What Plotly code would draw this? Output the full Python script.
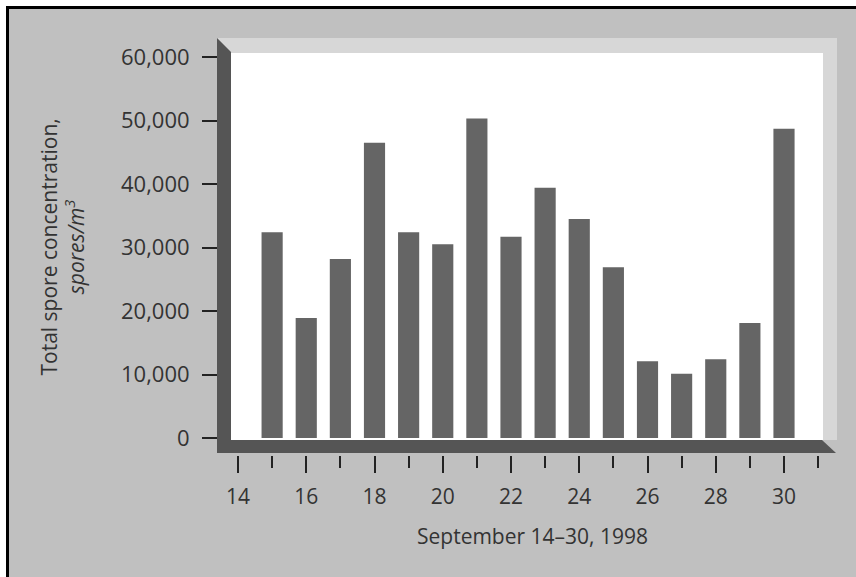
import plotly.graph_objects as go

# ---- data ----
days = [15, 16, 17, 18, 19, 20, 21, 22, 23, 24, 25, 26, 27, 28, 29, 30]
spores = [32400, 18900, 28200, 46500, 32400, 30500, 50300, 31700,
          39400, 34500, 26900, 12100, 10100, 12400, 18100, 48700]
x_major = [14, 16, 18, 20, 22, 24, 26, 28, 30]
x_minor = [15, 17, 19, 21, 23, 25, 27, 29, 31]
y_ticks = [0, 10000, 20000, 30000, 40000, 50000, 60000]

W, H = 856, 577
L, R, T, B = 230, 33, 53, 137
PW, PH = W - L - R, H - T - B

def px(p):
    return (p - L) / PW

def py(p):
    return (H - B - p) / PH

def poly(pts):
    return "M " + " L ".join(f"{px(a):.5f},{py(b):.5f}" for a, b in pts) + " Z"

BG = "#c0c0c0"
DARK = "#555555"
LIGHT = "#d7d7d7"
BAR = "#656565"
TXT = "#333333"
FONT = "Open Sans"

fig = go.Figure()
fig.add_trace(go.Bar(x=days, y=spores, width=0.62, marker=dict(color=BAR, line=dict(width=0))))

shapes = [
    # gray panel
    dict(type="rect", xref="paper", yref="paper", x0=px(6), x1=px(W), y0=py(6), y1=py(H),
         fillcolor=BG, line=dict(width=0), layer="below"),
    # light top and right bands
    dict(type="path", xref="paper", yref="paper", path=poly([(217, 38), (837, 38), (837, 440), (823, 440), (823, 53), (231, 53)]),
         fillcolor=LIGHT, line=dict(width=0), layer="below"),
    # white plotting field
    dict(type="rect", xref="paper", yref="paper", x0=0, x1=1, y0=0, y1=1,
         fillcolor="white", line=dict(width=0), layer="below"),
    # left wall
    dict(type="path", xref="paper", yref="paper", path=poly([(217, 38), (231, 52), (231, 453), (217, 453)]),
         fillcolor=DARK, line=dict(width=0), layer="above"),
    # floor
    dict(type="path", xref="paper", yref="paper", path=poly([(217, 440), (822, 440), (836, 453), (217, 453)]),
         fillcolor=DARK, line=dict(width=0), layer="above"),
    # gap strip under floor
    dict(type="rect", xref="paper", yref="paper", x0=px(217), x1=px(840), y0=py(453), y1=py(456),
         fillcolor=BG, line=dict(width=0), layer="above"),
    # black frame lines
    dict(type="line", xref="paper", yref="paper", x0=px(7.5), x1=px(7.5), y0=py(6), y1=py(H),
         line=dict(color="black", width=3), layer="above"),
    dict(type="line", xref="paper", yref="paper", x0=px(6), x1=px(W), y0=py(7.5), y1=py(7.5),
         line=dict(color="black", width=3), layer="above"),
]

fig.update_layout(
    width=W, height=H,
    margin=dict(l=L, r=R, t=T, b=B, pad=0),
    paper_bgcolor="white",
    plot_bgcolor="white",
    showlegend=False,
    shapes=shapes,
    font=dict(family=FONT, color=TXT),
    xaxis=dict(
        range=[14 + (L - 238) / 34.125, 14 + (W - R - 238) / 34.125],
        tickvals=x_major, ticktext=[str(v) for v in x_major],
        ticks="outside", ticklen=32, tickwidth=2, tickcolor="#222222",
        minor=dict(tickvals=x_minor, ticks="outside", ticklen=27, tickwidth=2, tickcolor="#222222"),
        showgrid=False, zeroline=False, showline=False,
        tickfont=dict(size=21, color=TXT, family=FONT),
        ticklabelstandoff=6,
        fixedrange=True,
    ),
    yaxis=dict(
        range=[-(440 - 438) / 63.5 * 10000, (438 - 53) / 63.5 * 10000],
        tickvals=y_ticks, tickformat=",d",
        ticks="outside", ticklen=27, tickwidth=2, tickcolor="#222222",
        showgrid=False, zeroline=False, showline=False,
        tickfont=dict(size=22, color=TXT, family=FONT),
        ticklabelstandoff=8,
        fixedrange=True,
    ),
    annotations=[
        dict(text="Total spore concentration,<br><i>spores/m<sup>3</sup></i>",
             xref="paper", yref="paper", x=px(62), y=0.5, xanchor="center", yanchor="middle",
             textangle=-90, showarrow=False, font=dict(size=21, color=TXT, family=FONT)),
        dict(text="September 14\u201330, 1998",
             xref="paper", yref="paper", x=px(532), y=py(536), xanchor="center", yanchor="middle",
             showarrow=False, font=dict(size=21, color=TXT, family=FONT)),
    ],
)

fig.write_html("out.html")
